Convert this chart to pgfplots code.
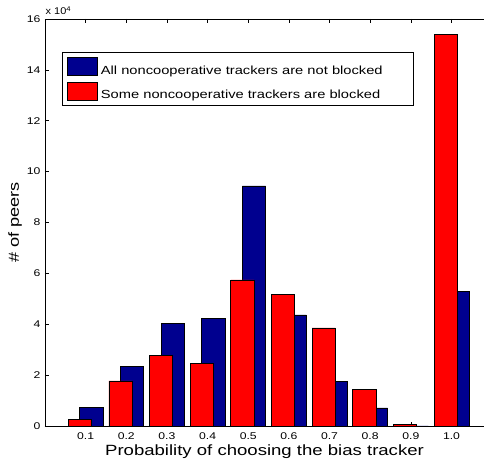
\documentclass[border=0pt]{standalone}
\usepackage{pgfplots}
\pgfplotsset{compat=1.18}
\usepackage{graphicx}
\usepackage{fontspec}
\setmainfont{Liberation Sans}
\definecolor{mblue}{rgb}{0,0,0.56}
\definecolor{mred}{rgb}{1,0,0}
\newcommand{\hs}[1]{\scalebox{1.25}[1]{#1}}
\begin{document}
\begin{tikzpicture}
\useasboundingbox (-45bp,-39bp) rectangle (439bp,426bp);
\begin{axis}[
  scale only axis, width=439bp, height=407bp,
  xmin=0, xmax=10.8, ymin=0, ymax=160000,
  axis y line*=left, axis x line*=box,
  axis line style={line width=0.8bp},
  tick style={line width=0.6bp, black},
  major tick length=4bp,
  tick align=inside,
  xtick pos=both, ytick pos=left,
  xtick={1,2,3,4,5,6,7,8,9,10},
  xticklabels={\hs{0.1},\hs{0.2},\hs{0.3},\hs{0.4},\hs{0.5},\hs{0.6},\hs{0.7},\hs{0.8},\hs{0.9},\hs{1.0}},
  ytick={0,20000,40000,60000,80000,100000,120000,140000,160000},
  yticklabels={\hs{0},\hs{2},\hs{4},\hs{6},\hs{8},\hs{10},\hs{12},\hs{14},\hs{16}},
  scaled y ticks=false,
  tick label style={font=\fontsize{9.8}{11}\selectfont},
  xticklabel style={yshift=-3bp},
  yticklabel style={xshift=-1bp},
  xlabel={\hs{Probability of choosing the bias tracker}},
  xlabel style={font=\fontsize{14.9}{16}\selectfont, at={(axis description cs:0.5,0)}, anchor=base, yshift=-29bp},
  ylabel={\hs{\# of peers}},
  ylabel style={font=\fontsize{14.6}{16}\selectfont, at={(axis description cs:0,0.5)}, anchor=base, yshift=26bp},
  bar width=0.574,
  legend style={at={(axis description cs:0.0387,0.919)}, anchor=north west,
    draw=black, line width=0.6bp, fill=white,
    font=\fontsize{11.8}{13}\selectfont,
    inner xsep=5bp, inner ysep=5bp, row sep=6bp,
    nodes={inner sep=0pt},
    cells={anchor=west}},
  legend cell align=left,
  /tikz/every odd column/.append style={column sep=3bp},
  legend image code/.code={\draw[#1, line width=0.6bp] (0bp,-5bp) rectangle (30bp,13bp);},
  clip=false,
]
\addplot[ybar, bar shift=0.143, fill=mblue, draw=black, line width=0.6bp] coordinates {
(1,7200) (2,23400) (3,40300) (4,42300) (5,94400) (6,43700) (7,17500) (8,7100) (9,50) (10,53000)};
\addlegendentry{\hs{All noncooperative trackers are not blocked}\rule{26bp}{0pt}}
\addplot[ybar, bar shift=-0.143, fill=mred, draw=black, line width=0.6bp] coordinates {
(1,2500) (2,17700) (3,27600) (4,24600) (5,57400) (6,51700) (7,38600) (8,14300) (9,600) (10,154100)};
\addlegendentry{\hs{Some noncooperative trackers are blocked}}
\end{axis}
\node[anchor=base west, font=\fontsize{9.8}{11}\selectfont, inner sep=0pt] at (0.5bp,411bp) {\scalebox{1.12}[1]{x 10\textsuperscript{4}}};
\end{tikzpicture}
\end{document}
